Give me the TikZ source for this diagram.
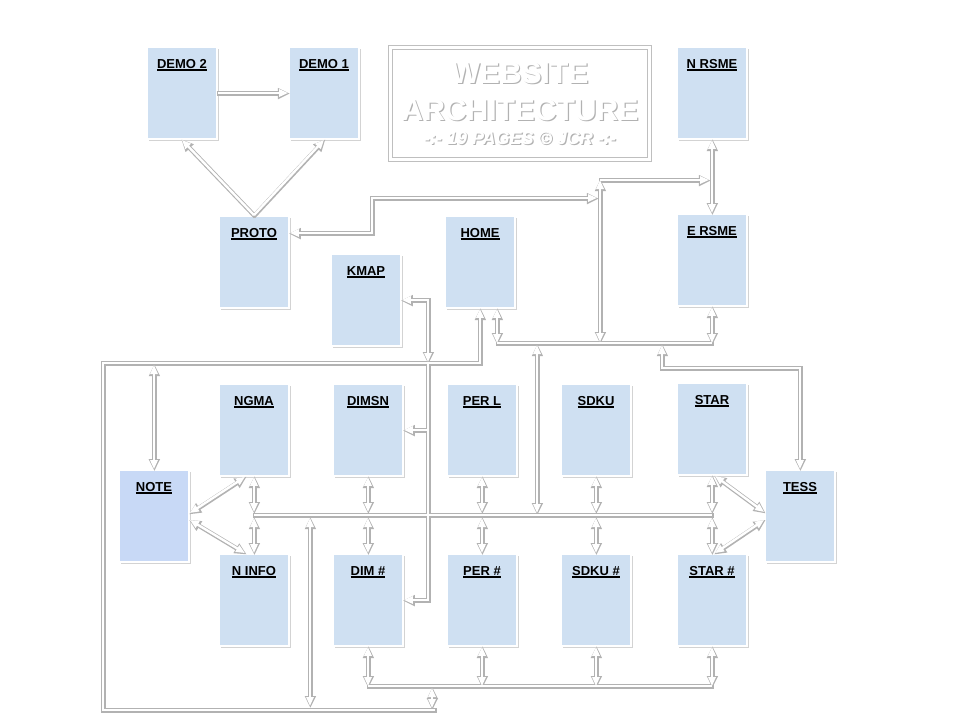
\documentclass[tikz,border=0pt]{standalone}
\usepackage{fontspec}
\setmainfont{Liberation Sans}
\usetikzlibrary{arrows.meta,shadows}
\definecolor{pageblue}{RGB}{207,224,242}
\definecolor{noteblue}{RGB}{200,217,246}
\newcommand{\pageul}[1]{\sbox0{#1}\rlap{\rule[-2.4pt]{\wd0}{1.4pt}}\usebox0}

% every connector, drawn twice (shade, then white)
\newcommand{\wiring}{
\draw[wire,headend] (demotwo) -- (demoone);
\draw[wire,headend] (proto.north) -- (demotwo.south);
\draw[wire,headend] (proto.north) -- (demoone.south);
\draw[wire,headboth] 
(proto.east |- protolink) -| (372,198) -- (597,198)
;
\draw[wire,headboth] (rsmebus) -- (600,342);
\draw[wire,headend] (rsmebus) -- (709,180);
\draw[wire,headboth] (nrsme.south) -- (nrsme.south |- ersme.north);
\draw[wire,headboth] (ersme.south) -- (ersme.south |- homebus);
\draw[wire,headboth] ([xshift=17pt]home.south) -- ([xshift=17pt]home.south |- homebus);
\draw[wire] ([xshift=17pt]home.south |- homebus) -- (ersme.south |- homebus);
\draw[wire,headboth] (537,345) -- (537,513);
\draw[wire,headboth] 
(662,345) -- (662,368) -| (tess.north)
;
\draw[wire,headstart] 
(home.south) |- (103,363) -- (103,710) -- (435,710)
;
\draw[wire,headboth] (154,365) -- (note.north);
\draw[wire,headboth] (kmap.east) -| (428,362);
\draw[wire,headend] (428,364) |- (dimnum.east);
\draw[wire,headend] (428,430) -- (dimsn.east);
\draw[wire] (ngma.south |- midbus) -- (star.south |- midbus);
\foreach \up/\dn in {ngma/ninfo,dimsn/dimnum,perl/pernum,sdku/sdkunum,star/starnum}{
\draw[wire,headboth] (\up.south) -- (\up.south |- midtop);
\draw[wire,headboth] (\up.south |- midlow) -- (\dn.north);
}
\draw[wire,headboth] ([yshift=3pt]note.east) -- ([xshift=-9pt]ngma.south);
\draw[wire,headboth] ([yshift=-4pt]note.east) -- ([xshift=-9pt]ninfo.north);
\draw[wire,headboth] ([yshift=4pt]tess.west) -- ([xshift=3pt]star.south);
\draw[wire,headboth] ([yshift=-4pt]tess.west) -- ([xshift=3pt]starnum.north);
\draw[wire,headboth] (310,518) -- (310,706);
\draw[wire] (dimnum.south |- lowbus) -- (starnum.south |- lowbus);
\foreach \n in {dimnum,pernum,sdkunum,starnum}
\draw[wire,headboth] (\n.south) -- (\n.south |- lowbus);
\draw[wire,headboth] (432,688) -- (432,708);
}

\begin{document}
\begin{tikzpicture}[x=1pt,y=-1pt,
pagelabel/.style={anchor=north, yshift=-13pt, inner sep=0pt,
  font=\bfseries\fontsize{13}{15}\selectfont},
page/.style={rectangle, fill=pageblue, draw=white, line width=1.8pt,
  minimum width=70pt, minimum height=92pt,
  drop shadow={shadow xshift=1.6pt, shadow yshift=-2pt, opacity=.35},
  label={[pagelabel]north:\pageul{#1}}},
titlebox/.style={draw=black!25, double=white, double distance=3.6pt, line width=.9pt,
  minimum width=259pt, minimum height=112pt},
titletext/.style={align=center, inner sep=0pt, font=\bfseries\fontsize{30}{37}\selectfont},
subtext/.style={inner sep=0pt, font=\bfseries\itshape\fontsize{18}{20}\selectfont},
]
\useasboundingbox (0,0) rectangle (960,720);

% title
\node[titlebox](title) at(520,103.5) {};
\node[titletext, text=black!30](headshade) at(521.2,93) {WEBSITE\\ARCHITECTURE};
\node[titletext, text=white](head) at(520,91.5) {WEBSITE\\ARCHITECTURE};
\node[subtext, text=black!30](subshade) at(521.2,139.5) {-:- 19 PAGES \textcopyright{} JCR -:-};
\node[subtext, text=white](sub) at(520,138) {-:- 19 PAGES \textcopyright{} JCR -:-};

% pages
\node[page=DEMO 2](demotwo) at(182,93) {};
\node[page=DEMO 1](demoone) at(324,93) {};
\node[page=N RSME](nrsme) at(712,93) {};
\node[page=PROTO](proto) at(254,262) {};
\node[page=KMAP](kmap) at(366,300) {};
\node[page=HOME](home) at(480,262) {};
\node[page=E RSME](ersme) at(712,260) {};
\node[page=NGMA](ngma) at(254,430) {};
\node[page=DIMSN](dimsn) at(368,430) {};
\node[page=PER L](perl) at(482,430) {};
\node[page=SDKU](sdku) at(596,430) {};
\node[page=STAR](star) at(712,429) {};
\node[page=NOTE, fill=noteblue](note) at(154,516) {};
\node[page=TESS](tess) at(800,516) {};
\node[page=N INFO](ninfo) at(254,600) {};
\node[page=DIM \#](dimnum) at(368,600) {};
\node[page=PER \#](pernum) at(482,600) {};
\node[page=SDKU \#](sdkunum) at(596,600) {};
\node[page=STAR \#](starnum) at(712,600) {};

\coordinate(protolink) at(0,233);
\coordinate(rsmebus) at(600,180);
\coordinate(homebus) at(0,343);
\coordinate(midtop) at(0,512);
\coordinate(midbus) at(0,515);
\coordinate(midlow) at(0,518);
\coordinate(lowbus) at(0,686);

\begin{scope}[wire/.style={draw=black!30, line width=4.4pt,
    shorten >=-1.4pt, shorten <=-1.4pt},
  headend/.style={-{Triangle[length=12pt,width=10.5pt]}},
  headstart/.style={{Triangle[length=12pt,width=10.5pt]}-},
  headboth/.style={{Triangle[length=12pt,width=10.5pt]}-{Triangle[length=12pt,width=10.5pt]}},
  transform canvas={shift={(.4pt,-.6pt)}}]
\wiring
\end{scope}
\begin{scope}[wire/.style={draw=white, line width=2.4pt},
  headend/.style={-{Triangle[length=9pt,width=7.2pt]}},
  headstart/.style={{Triangle[length=9pt,width=7.2pt]}-},
  headboth/.style={{Triangle[length=9pt,width=7.2pt]}-{Triangle[length=9pt,width=7.2pt]}}]
\wiring
\end{scope}

\end{tikzpicture}
\end{document}
